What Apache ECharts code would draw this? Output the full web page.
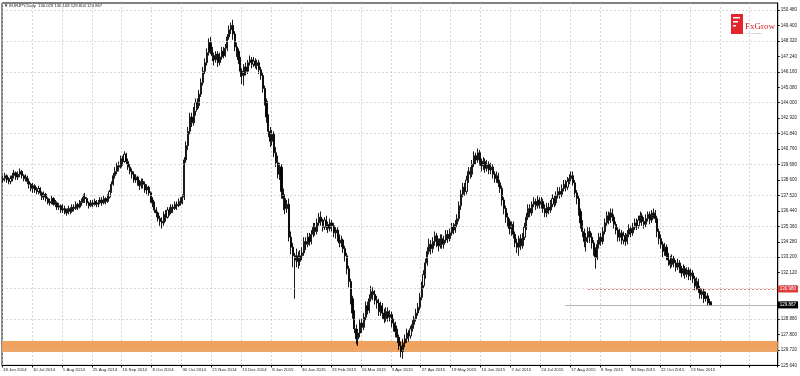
<!DOCTYPE html>
<html><head><meta charset="utf-8">
<script src="https://cdn.jsdelivr.net/npm/echarts@6/dist/echarts.min.js"></script>
<style>html,body{margin:0;padding:0;background:#fff}#c{width:800px;height:376px}</style>
</head><body><div id="c"></div>
<script>
const tickLabels = ['18 Jun 2014','10 Jul 2014','1 Aug 2014','25 Aug 2014','16 Sep 2014','8 Oct 2014','30 Oct 2014','21 Nov 2014','15 Dec 2014','8 Jan 2015','30 Jan 2015','23 Feb 2015','16 Mar 2015','3 Apr 2015','27 Apr 2015','19 May 2015','10 Jun 2015','2 Jul 2015','24 Jul 2015','17 Aug 2015','8 Sep 2015','30 Sep 2015','22 Oct 2015','13 Nov 2015'];
const holidays = ['2014-12-25','2015-01-01'];
const extraSessions = ['2015-03-08','2015-03-22','2015-03-29'];
const gridPrices = [126.72,128.88,131.04,133.20,135.36,137.52,139.68,141.84,144.00,146.16,148.32,150.48];
const supportZone = [126.57, 127.34];
const redLevel = 130.98;
const redLevelFrom = '2015-08-28';
const lastPrice = 129.867;
const lastLineFrom = '2015-08-12';
const headerText = '\u25BC EURJPY,Daily  130.029 130.108 129.804 129.867';
// [open, close, low, high]
const candles = [
[138.6,138.7,138.4,138.9],[138.7,138.9,138.5,139.1],[138.9,138.6,138.4,139.0],[138.6,138.5,138.3,138.8],[138.5,138.7,138.3,138.9],
[138.7,138.9,138.5,139.1],[138.9,139.1,138.7,139.3],[139.1,138.8,138.6,139.2],[138.8,139.0,138.6,139.2],[139.0,139.2,138.8,139.4],
[139.2,138.9,138.7,139.3],[138.9,138.7,138.5,139.0],[138.7,138.8,138.5,139.0],[138.8,138.5,138.3,138.9],[138.5,138.3,138.0,138.7],
[138.3,138.0,137.8,138.4],[138.0,138.2,137.7,138.4],[138.2,137.9,137.7,138.3],[137.9,137.8,137.6,138.1],[137.8,138.0,137.6,138.2],
[138.0,137.7,137.5,138.1],[137.7,137.4,137.2,137.8],[137.4,137.6,137.2,137.8],[137.6,137.3,137.1,137.7],[137.3,137.0,136.9,137.4],
[137.0,137.1,136.8,137.3],[137.1,137.3,136.9,137.5],[137.3,136.9,136.8,137.4],[136.9,137.0,136.7,137.2],[137.0,136.7,136.5,137.1],
[136.7,136.8,136.5,137.0],[136.8,136.5,136.3,136.9],[136.5,136.6,136.3,136.9],[136.6,136.4,136.2,136.8],[136.4,136.3,136.1,136.6],
[136.3,136.6,136.2,136.8],[136.6,136.4,136.2,136.7],[136.4,136.7,136.3,136.9],[136.7,136.6,136.4,136.9],[136.6,136.9,136.5,137.1],
[136.9,136.7,136.5,137.0],[136.7,137.0,136.6,137.2],[137.0,137.1,136.8,137.3],[137.1,137.4,137.0,137.6],[137.4,137.3,137.0,137.7],
[137.3,137.0,136.8,137.4],[137.0,136.8,136.6,137.1],[136.8,137.0,136.7,137.2],[137.0,136.9,136.7,137.2],[136.9,137.1,136.8,137.3],
[137.1,136.9,136.7,137.2],[136.9,137.0,136.7,137.2],[137.0,137.2,136.9,137.4],[137.2,137.0,136.8,137.4],[137.0,137.3,136.9,137.5],
[137.3,137.1,136.9,137.4],[137.1,137.4,137.0,137.6],[137.4,137.8,137.3,137.9],[137.8,138.3,137.7,138.5],[138.3,138.9,138.2,139.1],
[138.9,139.2,138.7,139.5],[139.2,139.6,139.0,139.8],[139.6,139.5,139.2,139.9],[139.5,140.1,139.4,140.3],[140.1,139.9,139.6,140.3],
[139.9,140.4,139.8,140.6],[140.4,139.9,139.7,140.5],[139.9,139.5,139.3,140.1],[139.5,139.2,139.0,139.7],[139.2,139.0,138.7,139.4],
[139.0,138.6,138.4,139.2],[138.6,138.8,138.4,139.0],[138.8,138.4,138.2,138.9],[138.4,138.2,137.9,138.6],[138.2,138.5,138.0,138.7],
[138.5,138.3,138.0,138.7],[138.3,137.9,137.7,138.5],[137.9,138.1,137.6,138.3],[138.1,137.7,137.5,138.2],[137.7,137.2,137.0,137.8],
[137.2,137.0,136.7,137.4],[137.0,136.5,136.3,137.1],[136.5,136.3,136.0,136.7],[136.3,135.9,135.7,136.4],[135.9,135.7,135.4,136.1],
[135.7,135.6,135.2,136.0],[135.6,136.2,135.4,136.4],[136.2,136.0,135.7,136.5],[136.0,136.5,135.9,136.7],[136.5,136.3,136.1,136.7],
[136.3,136.7,136.2,136.9],[136.7,136.6,136.3,136.9],[136.6,136.9,136.5,137.1],[136.9,136.8,136.5,137.1],[136.8,137.1,136.7,137.3],
[137.1,137.0,136.8,137.4],[137.0,137.4,136.9,137.6],[137.4,140.0,137.2,140.2],[140.0,141.0,139.8,141.3],[141.0,142.0,140.7,142.3],
[142.0,143.0,141.8,143.3],[143.0,142.6,142.3,143.3],[142.6,143.4,142.4,143.7],[143.4,144.0,143.1,144.3],[144.0,143.8,143.5,144.3],
[143.8,144.6,143.6,144.9],[144.6,145.4,144.4,145.7],[145.4,146.2,145.2,146.5],[146.2,146.8,146.0,147.1],[146.8,147.5,146.6,147.8],
[147.5,148.2,147.3,148.5],[148.2,147.7,147.4,148.6],[147.7,147.3,146.9,147.9],[147.3,147.0,146.6,147.5],[147.0,147.4,146.8,147.6],
[147.4,146.8,146.5,147.6],[146.8,147.2,146.6,147.5],[147.2,147.6,147.0,147.9],[147.6,147.3,147.1,147.9],[147.3,147.8,147.2,148.1],
[147.8,148.6,147.6,148.8],[148.6,149.1,148.4,149.4],[149.1,149.4,148.8,149.6],[149.4,148.8,148.4,149.8],[148.8,147.9,147.6,149.0],
[147.9,147.6,147.2,148.2],[147.6,147.0,146.7,147.8],[147.0,146.2,145.8,147.2],[146.2,145.9,145.3,146.4],[145.9,146.5,145.2,146.7],
[146.5,146.2,145.9,146.8],[146.2,146.8,146.0,147.0],[146.8,147.0,146.6,147.3],[147.0,146.7,146.4,147.2],[146.7,146.9,146.5,147.2],
[146.9,146.6,146.4,147.1],[146.6,146.8,146.3,147.0],[146.8,146.3,146.0,147.0],[146.3,145.9,145.6,146.5],[145.9,145.0,144.7,146.1],
[145.0,144.1,143.8,145.2],[144.1,143.0,142.6,144.3],[143.0,142.0,141.6,143.2],[142.0,141.3,140.9,142.3],[141.3,141.8,141.0,142.1],
[141.8,140.5,140.2,142.0],[140.5,139.8,139.5,140.9],[139.8,139.0,138.7,140.3],[139.0,139.5,138.6,139.8],[139.5,137.8,137.3,139.7],
[137.8,137.3,136.5,138.0],[137.3,136.6,136.2,137.6],[136.6,136.9,136.3,137.2],[136.9,134.6,134.3,137.3],[134.6,133.9,133.4,135.0],
[133.9,133.3,132.5,134.2],[133.3,133.0,130.3,133.5],[133.0,133.3,132.5,133.8],[133.3,132.9,132.4,133.6],[132.9,133.3,132.6,133.7],
[133.3,133.5,133.0,133.9],[133.5,134.3,133.3,134.6],[134.3,134.1,133.7,134.6],[134.1,134.6,133.9,134.9],[134.6,134.3,134.0,134.9],
[134.3,134.8,134.1,135.1],[134.8,135.3,134.6,135.6],[135.3,135.0,134.7,135.6],[135.0,135.6,134.8,135.9],[135.6,136.0,135.4,136.3],
[136.0,135.7,135.4,136.4],[135.7,135.3,135.0,135.9],[135.3,135.8,135.1,136.0],[135.8,135.5,135.1,136.1],[135.5,135.2,134.9,135.7],
[135.2,135.6,135.0,135.9],[135.6,135.4,135.0,135.8],[135.4,134.9,134.6,135.6],[134.9,135.1,134.5,135.3],[135.1,134.6,134.3,135.3],
[134.6,134.2,133.9,134.8],[134.2,134.4,133.9,134.7],[134.4,133.8,133.5,134.5],[133.8,133.3,132.9,134.0],[133.3,132.4,132.0,133.5],
[132.4,131.5,131.1,132.6],[131.5,130.3,129.9,131.7],[130.3,129.3,128.9,130.5],[129.3,128.2,127.9,129.5],[128.2,127.5,127.1,128.5],
[127.5,127.9,127.0,128.2],[127.9,128.6,127.6,128.9],[128.6,128.3,127.9,128.9],[128.3,129.0,128.1,129.3],[129.0,129.8,128.8,130.1],
[129.8,129.5,129.2,130.1],[129.5,130.3,129.3,130.6],[130.3,130.8,130.1,131.2],[130.8,130.6,130.2,131.1],[130.6,130.2,129.9,130.9],
[130.2,130.0,129.6,130.5],[130.0,129.4,129.1,130.3],[129.4,129.8,129.1,130.1],[129.8,129.3,128.9,130.0],[129.3,128.9,128.6,129.6],
[128.9,129.4,128.7,129.7],[129.4,129.0,128.7,129.7],[129.0,129.2,128.7,129.5],[129.2,128.6,128.3,129.4],[128.6,128.4,128.0,128.9],
[128.4,128.0,127.6,128.7],[128.0,127.6,127.2,128.2],[127.6,127.0,126.7,127.8],[127.0,126.6,126.2,127.3],[126.6,127.2,126.1,127.5],
[127.2,127.5,126.9,127.8],[127.5,127.9,127.2,128.2],[127.9,127.7,127.3,128.1],[127.7,128.2,127.5,128.4],[128.2,128.5,128.0,128.8],
[128.5,128.9,128.2,129.1],[128.9,129.3,128.7,129.6],[129.3,129.7,129.1,130.0],[129.7,130.4,129.5,130.7],[130.4,131.2,130.2,131.5],
[131.2,132.0,131.0,132.3],[132.0,132.8,131.7,133.1],[132.8,133.6,132.6,133.9],[133.6,134.1,133.4,134.5],[134.1,133.8,133.4,134.4],
[133.8,134.3,133.5,134.6],[134.3,134.7,134.0,135.0],[134.7,134.2,133.9,134.9],[134.2,134.0,133.6,134.5],[134.0,134.5,133.8,134.8],
[134.5,134.1,133.8,134.8],[134.1,134.4,133.8,134.7],[134.4,134.8,134.2,135.1],[134.8,134.5,134.2,135.1],[134.5,134.9,134.3,135.2],
[134.9,135.3,134.7,135.6],[135.3,135.1,134.8,135.6],[135.1,135.5,134.9,135.8],[135.5,135.9,135.3,136.2],[135.9,136.8,135.7,137.1],
[136.8,137.6,136.5,137.9],[137.6,138.1,137.4,138.4],[138.1,137.8,137.5,138.4],[137.8,138.6,137.6,138.9],[138.6,139.2,138.4,139.5],
[139.2,139.0,138.7,139.5],[139.0,139.7,138.8,140.0],[139.7,140.3,139.5,140.6],[140.3,140.0,139.7,140.5],[140.0,140.5,139.8,140.8],
[140.5,139.9,139.6,140.7],[139.9,139.6,139.2,140.1],[139.6,139.9,139.3,140.2],[139.9,139.4,139.1,140.1],[139.4,139.7,139.2,140.0],
[139.7,139.3,139.0,139.9],[139.3,139.5,139.0,139.8],[139.5,139.0,138.7,139.7],[139.0,138.7,138.4,139.2],[138.7,138.9,138.4,139.2],
[138.9,138.4,138.1,139.1],[138.4,138.0,137.7,138.6],[138.0,137.2,136.8,138.2],[137.2,136.6,136.2,137.4],[136.6,136.0,135.6,136.8],
[136.0,135.7,135.3,136.3],[135.7,135.2,134.8,135.9],[135.2,135.5,134.7,135.7],[135.5,134.8,134.5,135.7],[134.8,134.2,133.9,135.0],
[134.2,133.9,133.5,134.5],[133.9,134.5,133.3,134.7],[134.5,134.0,133.7,134.8],[134.0,134.6,133.8,134.9],[134.6,135.3,134.4,135.6],
[135.3,136.0,135.1,136.3],[136.0,136.6,135.8,136.9],[136.6,136.3,136.0,136.9],[136.3,136.9,136.1,137.1],[136.9,137.1,136.7,137.4],
[137.1,136.8,136.5,137.3],[136.8,137.2,136.6,137.5],[137.2,136.9,136.6,137.4],[136.9,137.1,136.6,137.4],[137.1,136.6,136.3,137.3],
[136.6,136.3,136.0,136.9],[136.3,136.7,136.0,137.0],[136.7,136.5,136.2,137.0],[136.5,136.9,136.3,137.2],[136.9,137.3,136.7,137.6],
[137.3,137.0,136.7,137.5],[137.0,137.5,136.8,137.8],[137.5,137.8,137.3,138.1],[137.8,137.6,137.3,138.1],[137.6,138.0,137.4,138.3],
[138.0,138.3,137.8,138.6],[138.3,138.1,137.8,138.6],[138.1,138.5,137.9,138.8],[138.5,138.7,138.3,139.0],[138.7,138.9,138.5,139.2],
[138.9,138.4,138.2,139.2],[138.4,137.7,137.4,138.6],[137.7,137.3,136.9,137.9],[137.3,136.4,136.1,137.5],[136.4,135.6,135.2,136.6],
[135.6,135.0,134.6,135.8],[135.0,134.3,133.9,135.2],[134.3,134.6,133.6,134.9],[134.6,135.0,134.2,135.3],[135.0,134.6,134.2,135.3],
[134.6,134.2,133.8,134.9],[134.2,133.7,133.3,134.4],[133.7,133.2,132.4,133.9],[133.2,134.1,133.0,134.4],[134.1,134.6,133.8,134.9],
[134.6,134.3,134.0,134.9],[134.3,135.0,134.1,135.3],[135.0,135.6,134.8,135.9],[135.6,136.1,135.4,136.4],[136.1,135.8,135.5,136.4],
[135.8,136.3,135.6,136.6],[136.3,136.0,135.7,136.6],[136.0,135.5,135.2,136.2],[135.5,135.1,134.8,135.7],[135.1,134.6,134.3,135.3],
[134.6,134.9,134.3,135.2],[134.9,134.4,134.1,135.1],[134.4,134.7,134.1,135.0],[134.7,134.3,134.0,134.9],[134.3,134.8,134.1,135.1],
[134.8,135.2,134.6,135.5],[135.2,134.9,134.6,135.4],[134.9,135.3,134.7,135.6],[135.3,135.6,135.1,135.9],[135.6,135.4,135.1,135.9],
[135.4,135.8,135.2,136.1],[135.8,136.1,135.6,136.4],[136.1,135.7,135.4,136.3],[135.7,135.5,135.2,136.0],[135.5,135.9,135.3,136.2],
[135.9,136.2,135.7,136.4],[136.2,135.8,135.5,136.4],[135.8,136.1,135.6,136.5],[136.1,136.3,135.9,136.6],[136.3,135.9,135.6,136.5],
[135.9,135.0,134.6,136.1],[135.0,134.5,134.1,135.2],[134.5,134.1,133.8,134.8],[134.1,133.6,133.2,134.3],[133.6,133.9,133.3,134.2],
[133.9,133.3,133.0,134.1],[133.3,133.0,132.6,133.5],[133.0,132.7,132.4,133.3],[132.7,133.1,132.5,133.4],[133.1,132.8,132.5,133.3],
[132.8,132.5,132.2,133.0],[132.5,132.8,132.3,133.1],[132.8,132.4,132.1,133.0],[132.4,132.1,131.8,132.6],[132.1,132.4,131.9,132.7],
[132.4,132.0,131.7,132.6],[132.0,132.3,131.8,132.5],[132.3,131.9,131.6,132.5],[131.9,132.1,131.6,132.4],[132.1,131.7,131.4,132.3],
[131.7,131.2,130.9,131.9],[131.2,131.5,130.9,131.8],[131.5,131.0,130.7,131.7],[131.0,130.6,130.3,131.2],[130.6,130.8,130.3,131.0],
[130.8,130.3,130.0,131.0],[130.3,130.5,130.1,130.8],[130.5,130.1,129.8,130.7],[130.1,130.0,129.8,130.3],[130.03,129.87,129.80,130.11]
];
const TOTAL_SLOTS = 415;

function buildCategories() {
  const out = [];
  const d = new Date(Date.UTC(2014, 5, 18));
  while (out.length < candles.length) {
    const s = d.toISOString().slice(0, 10);
    const wd = d.getUTCDay();
    if ((wd > 0 && wd < 6 && holidays.indexOf(s) < 0) || extraSessions.indexOf(s) >= 0) out.push(s);
    d.setUTCDate(d.getUTCDate() + 1);
  }
  let k = 0;
  while (out.length < TOTAL_SLOTS) out.push('future-' + (k++));
  return out;
}
const categories = buildCategories();
const lastCat = categories[TOTAL_SLOTS - 1];

const chart = echarts.init(document.getElementById('c'), null, {renderer: 'canvas'});
const FONT = 'Liberation Sans';
const gridDash = {color: '#c4c4c4', width: 0.7, type: [2, 2]};

chart.setOption({
  animation: false,
  backgroundColor: '#ffffff',
  grid: {left: 1, right: 19, top: 3, bottom: 10.6, show: true, borderColor: '#000', borderWidth: 1, backgroundColor: 'transparent'},
  xAxis: {
    type: 'category', data: categories, boundaryGap: true,
    axisLine: {show: true, lineStyle: {color: '#000', width: 1}},
    axisTick: {show: true, interval: 15, length: 2, lineStyle: {color: '#000'}},
    axisLabel: {interval: 15, showMinLabel: true, hideOverlap: false, align: 'left', margin: 2, fontSize: 4.3, color: '#222', fontFamily: FONT,
      formatter: (v, i) => (i % 16 === 0 && tickLabels[i / 16]) ? tickLabels[i / 16] : ''},
    splitLine: {show: true, interval: 15, lineStyle: gridDash}
  },
  yAxis: {
    type: 'value', position: 'right', min: 125.64, max: 150.97, interval: 1.08, scale: true,
    axisLine: {show: true, lineStyle: {color: '#000', width: 1}},
    axisTick: {show: true, length: 2, lineStyle: {color: '#000'}},
    axisLabel: {showMaxLabel: false, margin: 3, fontSize: 4.5, color: '#222', fontFamily: FONT,
      formatter: v => v.toFixed(3)},
    splitLine: {show: false}
  },
  graphic: [
    {type: 'text', left: 4, top: 4, style: {text: headerText, fontSize: 4.2, fill: '#222', fontFamily: FONT}},
    {type: 'rect', shape: {x: 731, y: 14, width: 12, height: 20}, style: {fill: '#e3262d'}},
    {type: 'rect', shape: {x: 733, y: 17, width: 7, height: 1.5}, style: {fill: '#fff'}},
    {type: 'rect', shape: {x: 733, y: 21, width: 5, height: 1.5}, style: {fill: '#fff'}},
    {type: 'rect', shape: {x: 733, y: 25, width: 3, height: 1.5}, style: {fill: '#fff'}},
    {type: 'text', left: 745, top: 22, style: {text: 'FxGrow', fontSize: 9, fill: '#d9232b', fontFamily: 'Liberation Serif'}},
    {type: 'text', left: 746, top: 32, style: {text: 'Forex Trading', fontSize: 2.5, fill: '#999', fontFamily: FONT}}
  ],
  series: [
    {
      type: 'line', data: [], z: 1, silent: true,
      markArea: {silent: true, itemStyle: {color: '#f0a35e', opacity: 1},
        data: [[{yAxis: supportZone[0]}, {yAxis: supportZone[1]}]]},
      markLine: {silent: true, symbol: ['none', 'none'], label: {show: false}, lineStyle: gridDash,
        data: gridPrices.map(p => ({yAxis: p}))}
    },
    {
      type: 'candlestick', data: candles, z: 3, barWidth: 1.6,
      itemStyle: {color: '#ffffff', color0: '#000000', borderColor: '#000000', borderColor0: '#000000', borderWidth: 0.9},
      markLine: {silent: true, symbol: ['none', 'none'],
        data: [
          [{coord: [redLevelFrom, redLevel], lineStyle: {color: '#e03a3a', width: 0.7, type: [2, 2]},
            label: {show: true, position: 'end', distance: 1, formatter: redLevel.toFixed(3), fontSize: 4.5, color: '#fff', backgroundColor: '#e03a3a', padding: [1, 2], fontFamily: FONT}},
           {coord: [lastCat, redLevel]}],
          [{coord: [lastLineFrom, lastPrice], lineStyle: {color: '#a0a0a0', width: 0.8, type: 'solid'},
            label: {show: true, position: 'end', distance: 1, formatter: lastPrice.toFixed(3), fontSize: 4.5, color: '#fff', backgroundColor: '#000', padding: [1, 2], fontFamily: FONT}},
           {coord: [lastCat, lastPrice]}]
        ]}
    }
  ]
});
</script></body></html>
